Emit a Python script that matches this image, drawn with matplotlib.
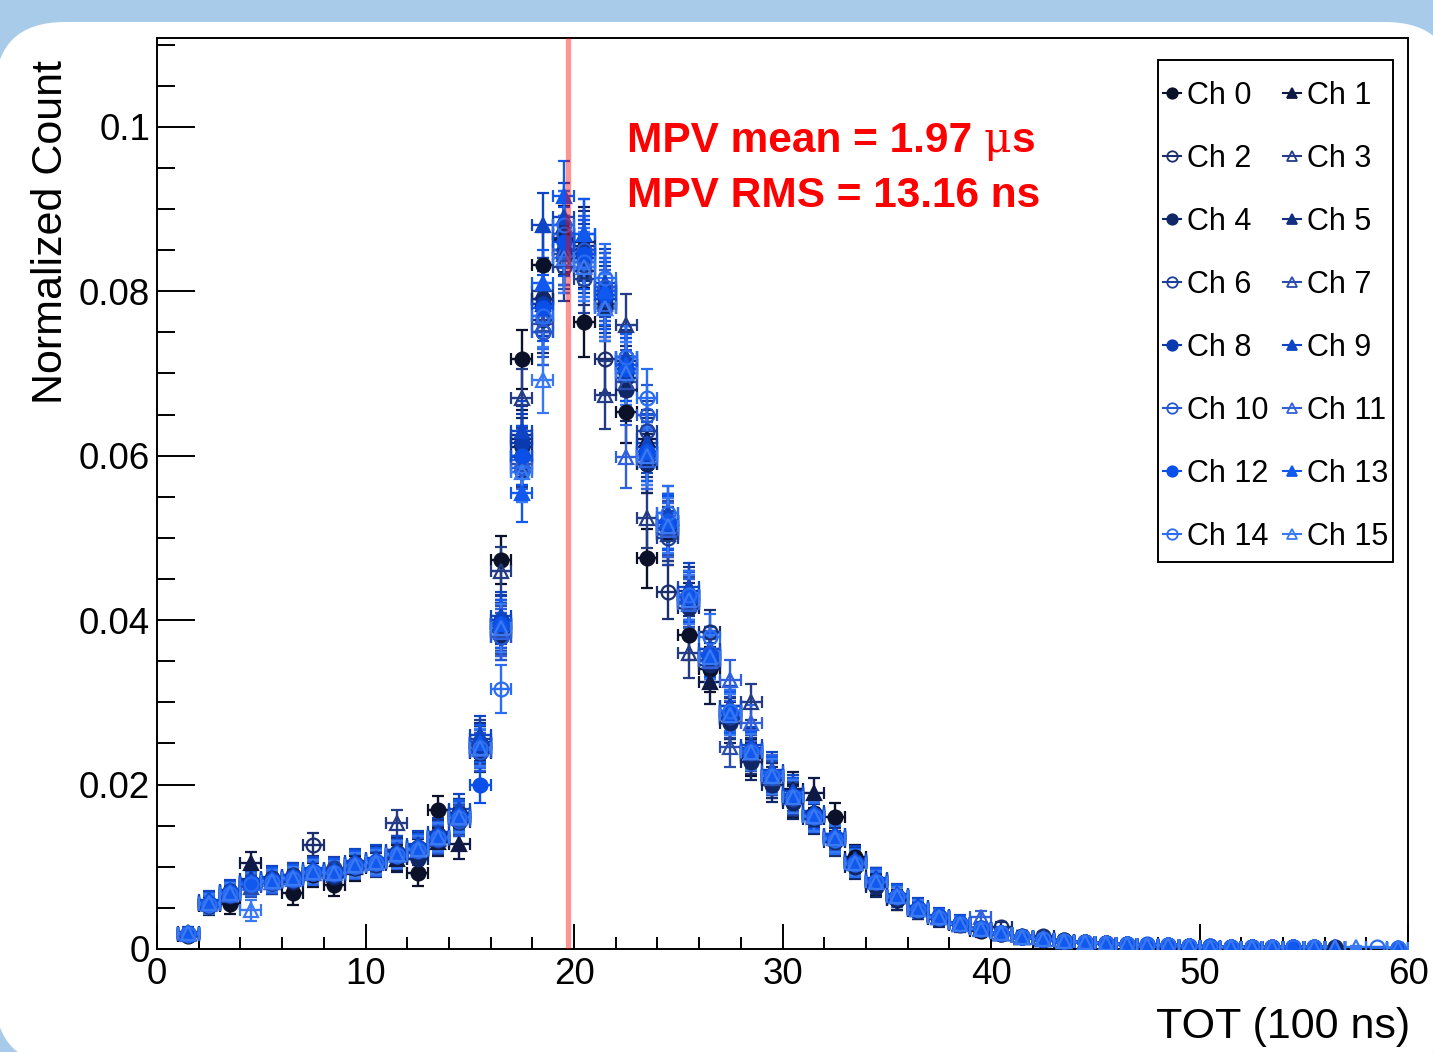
import numpy as np
import matplotlib
matplotlib.use('Agg')
import matplotlib.pyplot as plt
from matplotlib.patches import FancyBboxPatch, Rectangle
from matplotlib.transforms import IdentityTransform
from matplotlib.lines import Line2D
from matplotlib.offsetbox import TextArea, HPacker, AnchoredOffsetbox
from matplotlib.ticker import MultipleLocator, FuncFormatter

nan = np.nan

# TOT bins (100 ns units), centres 1.5 ... 59.5
tot_bins = np.arange(1.5, 60.0, 1.0)

# statistical error per bin (roughly common to all channels)
y_err = [0.0006, 0.0011, 0.0012, 0.0013, 0.0013, 0.0014, 0.0014, 0.0014, 0.0015, 0.0015,
         0.0016, 0.0016, 0.0017, 0.0018, 0.0023, 0.0029, 0.0036, 0.0040, 0.0042, 0.0042,
         0.0041, 0.0038, 0.0036, 0.0033, 0.0030, 0.0027, 0.0025, 0.0022, 0.0021, 0.0020,
         0.0018, 0.0017, 0.0015, 0.0013, 0.0012, 0.0010, 0.0009, 0.0008, 0.0007, 0.0006,
         0.0006, 0.0005, 0.0005, 0.0004, 0.0004, 0.0004, 0.0003, 0.0003, 0.0003, 0.0003,
         0.0003, 0.0002, 0.0002, 0.0002, 0.0002, 0.0002, 0.0002, 0.0001, 0.0001]

ch0 = [0.0016, 0.0052, 0.0055, 0.0082, 0.0080, 0.0068, 0.0090, 0.0078, 0.0098, 0.0104,
       0.0112, 0.0093, 0.0169, 0.0158, 0.0240, 0.0473, 0.0717, 0.0832, 0.0862, 0.0762,
       0.0785, 0.0653, 0.0475, 0.0505, 0.0382, 0.0340, 0.0280, 0.0232, 0.0205, 0.0180,
       0.0165, 0.0160, 0.0112, 0.0078, 0.0060, 0.0046, 0.0037, 0.0030, 0.0022, 0.0018,
       0.0014, 0.0012, 0.0011, 0.0008, 0.0007, 0.0005, 0.0005, 0.0004, 0.0004, 0.0003,
       nan, 0.0002, nan, 0.0003, nan, nan, nan, nan, nan]
ch1 = [0.0020, 0.0058, 0.0066, 0.0105, 0.0085, 0.0088, 0.0092, 0.0095, 0.0100, 0.0108,
       0.0110, 0.0118, 0.0130, 0.0128, 0.0250, 0.0395, 0.0620, 0.0790, 0.0850, 0.0860,
       0.0800, 0.0710, 0.0620, 0.0520, 0.0430, 0.0325, 0.0290, 0.0245, 0.0215, 0.0195,
       0.0190, 0.0140, 0.0108, 0.0085, 0.0066, 0.0050, 0.0040, 0.0032, 0.0025, 0.0020,
       0.0015, 0.0012, 0.0010, 0.0008, 0.0007, 0.0006, 0.0005, 0.0004, 0.0004, 0.0003,
       0.0003, nan, 0.0002, nan, 0.0002, 0.0002, nan, nan, nan]
ch2 = [0.0017, 0.0054, 0.0070, 0.0078, 0.0086, 0.0090, 0.0127, 0.0096, 0.0104, 0.0102,
       0.0118, 0.0120, 0.0140, 0.0165, 0.0250, 0.0385, 0.0600, 0.0765, 0.0840, 0.0825,
       0.0717, 0.0695, 0.0590, 0.0434, 0.0420, 0.0385, 0.0280, 0.0235, 0.0205, 0.0182,
       0.0160, 0.0130, 0.0104, 0.0080, 0.0063, 0.0048, 0.0038, 0.0030, 0.0024, 0.0027,
       0.0016, 0.0016, 0.0011, 0.0008, 0.0007, 0.0006, 0.0005, 0.0005, 0.0004, 0.0003,
       0.0003, 0.0003, nan, 0.0002, nan, nan, nan, nan, nan]
ch3 = [0.0019, 0.0056, 0.0069, 0.0082, 0.0081, 0.0087, 0.0095, 0.0090, 0.0105, 0.0110,
       0.0153, 0.0125, 0.0134, 0.0162, 0.0255, 0.0460, 0.0670, 0.0800, 0.0870, 0.0850,
       0.0674, 0.0759, 0.0524, 0.0505, 0.0360, 0.0365, 0.0295, 0.0300, 0.0212, 0.0188,
       0.0163, 0.0136, 0.0106, 0.0083, 0.0065, 0.0049, 0.0039, 0.0031, 0.0025, 0.0019,
       0.0015, 0.0012, 0.0010, 0.0008, 0.0007, 0.0006, 0.0005, 0.0005, 0.0004, nan,
       0.0003, nan, 0.0002, nan, nan, nan, nan, nan, nan]
ch4 = [0.0018, 0.0053, 0.0064, 0.0079, 0.0084, 0.0082, 0.0093, 0.0088, 0.0100, 0.0104,
       0.0114, 0.0110, 0.0138, 0.0155, 0.0238, 0.0380, 0.0610, 0.0790, 0.0865, 0.0845,
       0.0780, 0.0680, 0.0590, 0.0510, 0.0415, 0.0345, 0.0275, 0.0228, 0.0200, 0.0178,
       0.0158, 0.0132, 0.0100, 0.0076, 0.0060, 0.0046, 0.0036, 0.0029, 0.0023, 0.0018,
       0.0014, 0.0011, 0.0009, 0.0008, 0.0006, 0.0006, 0.0005, 0.0004, 0.0004, 0.0003,
       nan, 0.0003, 0.0002, nan, 0.0002, 0.0002, nan, nan, nan]
ch5 = [0.0021, 0.0057, 0.0070, 0.0085, 0.0086, 0.0089, 0.0097, 0.0095, 0.0105, 0.0110,
       0.0120, 0.0125, 0.0135, 0.0165, 0.0252, 0.0395, 0.0625, 0.0785, 0.0880, 0.0855,
       0.0805, 0.0715, 0.0610, 0.0520, 0.0435, 0.0360, 0.0290, 0.0245, 0.0212, 0.0188,
       0.0165, 0.0138, 0.0108, 0.0085, 0.0066, 0.0051, 0.0040, 0.0032, 0.0025, 0.0020,
       0.0016, 0.0013, 0.0010, 0.0008, 0.0007, 0.0006, 0.0005, 0.0005, 0.0004, 0.0003,
       0.0003, 0.0003, 0.0002, 0.0002, nan, 0.0002, nan, nan, nan]
ch6 = [0.0017, 0.0055, 0.0067, 0.0077, 0.0080, 0.0085, 0.0092, 0.0098, 0.0101, 0.0105,
       0.0113, 0.0124, 0.0132, 0.0158, 0.0248, 0.0392, 0.0598, 0.0750, 0.0830, 0.0815,
       0.0795, 0.0705, 0.0630, 0.0500, 0.0428, 0.0350, 0.0282, 0.0238, 0.0208, 0.0183,
       0.0160, 0.0134, 0.0104, 0.0082, 0.0064, 0.0049, 0.0039, 0.0031, 0.0024, 0.0019,
       0.0015, 0.0012, 0.0010, 0.0008, 0.0007, 0.0006, 0.0005, 0.0004, 0.0004, 0.0003,
       0.0003, 0.0002, nan, 0.0002, nan, nan, nan, nan, nan]
ch7 = [0.0019, 0.0056, 0.0066, 0.0076, 0.0082, 0.0087, 0.0095, 0.0092, 0.0103, 0.0107,
       0.0117, 0.0121, 0.0137, 0.0161, 0.0244, 0.0388, 0.0590, 0.0760, 0.0845, 0.0830,
       0.0780, 0.0690, 0.0605, 0.0512, 0.0422, 0.0352, 0.0246, 0.0238, 0.0208, 0.0185,
       0.0161, 0.0135, 0.0105, 0.0083, 0.0064, 0.0049, 0.0039, 0.0031, 0.0024, 0.0019,
       0.0015, 0.0012, 0.0010, 0.0008, 0.0007, 0.0006, 0.0005, 0.0005, 0.0004, 0.0003,
       0.0003, nan, 0.0002, nan, nan, nan, nan, nan, nan]
ch8 = [0.0018, 0.0054, 0.0068, 0.0080, 0.0083, 0.0086, 0.0094, 0.0090, 0.0102, 0.0106,
       0.0115, 0.0122, 0.0136, 0.0160, 0.0245, 0.0400, 0.0615, 0.0785, 0.0850, 0.0840,
       0.0790, 0.0700, 0.0600, 0.0515, 0.0425, 0.0355, 0.0285, 0.0240, 0.0210, 0.0185,
       0.0162, 0.0135, 0.0105, 0.0082, 0.0064, 0.0049, 0.0039, 0.0031, 0.0024, 0.0019,
       0.0015, 0.0012, 0.0010, 0.0008, 0.0007, 0.0006, 0.0005, 0.0005, 0.0004, 0.0004,
       0.0003, 0.0003, 0.0002, 0.0002, 0.0002, nan, nan, nan, nan]
ch9 = [0.0020, 0.0060, 0.0072, 0.0083, 0.0088, 0.0090, 0.0098, 0.0097, 0.0107, 0.0111,
       0.0121, 0.0128, 0.0142, 0.0170, 0.0260, 0.0405, 0.0630, 0.0880, 0.0890, 0.0870,
       0.0810, 0.0720, 0.0615, 0.0530, 0.0440, 0.0365, 0.0295, 0.0248, 0.0218, 0.0192,
       0.0168, 0.0140, 0.0110, 0.0086, 0.0067, 0.0052, 0.0041, 0.0033, 0.0026, 0.0020,
       0.0016, 0.0013, 0.0011, 0.0009, 0.0007, 0.0006, 0.0005, 0.0005, 0.0004, 0.0003,
       0.0003, 0.0003, 0.0003, 0.0002, 0.0002, 0.0002, nan, nan, nan]
ch10 = [0.0017, 0.0053, 0.0066, 0.0078, 0.0081, 0.0084, 0.0092, 0.0091, 0.0100, 0.0104,
        0.0113, 0.0119, 0.0134, 0.0156, 0.0240, 0.0380, 0.0585, 0.0750, 0.0870, 0.0850,
        0.0805, 0.0720, 0.0650, 0.0520, 0.0430, 0.0360, 0.0288, 0.0242, 0.0211, 0.0186,
        0.0163, 0.0136, 0.0106, 0.0083, 0.0065, 0.0050, 0.0040, 0.0032, 0.0025, 0.0019,
        0.0015, 0.0012, 0.0010, 0.0008, 0.0007, 0.0006, 0.0005, 0.0005, 0.0004, 0.0003,
        0.0003, 0.0003, 0.0002, 0.0002, nan, nan, nan, nan, nan]
ch11 = [0.0018, 0.0055, 0.0067, 0.0080, 0.0082, 0.0085, 0.0093, 0.0092, 0.0101, 0.0105,
        0.0114, 0.0121, 0.0135, 0.0159, 0.0243, 0.0385, 0.0595, 0.0770, 0.0850, 0.0835,
        0.0785, 0.0599, 0.0595, 0.0510, 0.0420, 0.0350, 0.0327, 0.0275, 0.0215, 0.0185,
        0.0162, 0.0135, 0.0105, 0.0082, 0.0064, 0.0049, 0.0039, 0.0031, 0.0039, 0.0019,
        0.0015, 0.0012, 0.0010, 0.0008, 0.0007, 0.0006, 0.0005, 0.0005, 0.0004, 0.0003,
        0.0003, 0.0003, 0.0002, nan, nan, nan, nan, nan, 0.0001]
ch12 = [0.0019, 0.0056, 0.0069, 0.0081, 0.0084, 0.0087, 0.0095, 0.0094, 0.0103, 0.0107,
        0.0116, 0.0123, 0.0137, 0.0162, 0.0200, 0.0395, 0.0600, 0.0780, 0.0860, 0.0845,
        0.0795, 0.0705, 0.0605, 0.0518, 0.0428, 0.0356, 0.0286, 0.0241, 0.0211, 0.0186,
        0.0163, 0.0136, 0.0106, 0.0083, 0.0065, 0.0050, 0.0040, 0.0032, 0.0025, 0.0019,
        0.0015, 0.0012, 0.0010, 0.0008, 0.0007, 0.0006, 0.0006, 0.0005, 0.0004, 0.0004,
        0.0003, 0.0003, 0.0002, 0.0002, 0.0002, nan, nan, nan, 0.0001]
ch13 = [0.0020, 0.0057, 0.0070, 0.0082, 0.0085, 0.0088, 0.0096, 0.0095, 0.0104, 0.0108,
        0.0117, 0.0124, 0.0138, 0.0163, 0.0250, 0.0395, 0.0555, 0.0810, 0.0916, 0.0870,
        0.0800, 0.0710, 0.0605, 0.0520, 0.0430, 0.0358, 0.0288, 0.0243, 0.0213, 0.0188,
        0.0164, 0.0137, 0.0107, 0.0084, 0.0066, 0.0050, 0.0040, 0.0032, 0.0025, 0.0020,
        0.0016, 0.0012, 0.0010, 0.0008, 0.0007, 0.0006, 0.0005, 0.0005, 0.0004, 0.0004,
        0.0003, 0.0003, 0.0003, 0.0002, 0.0002, 0.0002, nan, nan, 0.0001]
ch14 = [0.0018, 0.0054, 0.0067, 0.0079, 0.0082, 0.0085, 0.0093, 0.0092, 0.0101, 0.0105,
        0.0114, 0.0121, 0.0135, 0.0159, 0.0244, 0.0316, 0.0580, 0.0770, 0.0880, 0.0835,
        0.0816, 0.0720, 0.0670, 0.0530, 0.0430, 0.0380, 0.0290, 0.0240, 0.0210, 0.0185,
        0.0160, 0.0133, 0.0103, 0.0081, 0.0063, 0.0048, 0.0038, 0.0030, 0.0024, 0.0019,
        0.0015, 0.0012, 0.0010, 0.0008, 0.0007, 0.0006, 0.0005, 0.0005, 0.0004, 0.0003,
        0.0003, 0.0003, 0.0002, 0.0002, 0.0002, nan, nan, 0.0002, 0.0001]
ch15 = [0.0019, 0.0056, 0.0068, 0.0047, 0.0083, 0.0086, 0.0094, 0.0093, 0.0102, 0.0106,
        0.0115, 0.0122, 0.0136, 0.0160, 0.0245, 0.0390, 0.0580, 0.0692, 0.0840, 0.0830,
        0.0780, 0.0700, 0.0600, 0.0515, 0.0425, 0.0355, 0.0285, 0.0240, 0.0210, 0.0185,
        0.0162, 0.0135, 0.0105, 0.0082, 0.0064, 0.0049, 0.0039, 0.0031, 0.0024, 0.0019,
        0.0015, 0.0012, 0.0010, 0.0008, 0.0007, 0.0006, 0.0005, 0.0005, 0.0004, 0.0003,
        0.0003, 0.0003, 0.0002, nan, 0.0002, 0.0002, 0.0002, nan, 0.0001]

channels = [ch0, ch1, ch2, ch3, ch4, ch5, ch6, ch7,
            ch8, ch9, ch10, ch11, ch12, ch13, ch14, ch15]
labels = ['Ch %d' % i for i in range(16)]
colors = ['#0a1128', '#0e1a45', '#1b2f6e', '#233c85', '#0f2766', '#122f80', '#1d3f9a', '#2a4cab',
          '#0b3aae', '#0e45c4', '#2558d6', '#3060dc', '#0a4fe8', '#1058ee', '#2a6cf2', '#3a79f4']

mpv_tot = 19.7  # 1.97 us

plt.rcParams['font.family'] = ['Liberation Sans', 'DejaVu Sans']

fig = plt.figure(figsize=(14.33, 10.52), dpi=100)
fig.patch.set_facecolor('#a9cbea')
panel = FancyBboxPatch((-5, -13), 1460, 1043, boxstyle='round,pad=0,rounding_size=70',
                       transform=IdentityTransform(), fc='white', ec='none', zorder=-10)
fig.add_artist(panel)

ax = fig.add_axes([157 / 1433, 103 / 1052, 1251 / 1433, 911 / 1052])
ax.set_facecolor('white')

y_err = np.array(y_err)
handles = []
for c in range(16):
    y = np.array(channels[c], dtype=float)
    ok = ~np.isnan(y)
    mk = 'o' if c % 2 == 0 else '^'
    filled = c % 4 < 2
    col = colors[c]
    ax.errorbar(tot_bins[ok], y[ok], xerr=0.5, yerr=y_err[ok], fmt=mk, color=col,
                mfc=col if filled else 'none', mec=col, ms=10, mew=1.6,
                elinewidth=1.7, capsize=4, capthick=1.7, zorder=3)
    handles.append(Line2D([], [], color=col, marker=mk, mfc=col if filled else 'none',
                          mec=col, ms=7.5, mew=1.3, lw=1.5))

ax.axvline(mpv_tot, color='red', alpha=0.42, lw=3.8, zorder=5)

ax.set_xlim(0, 60)
ax.set_ylim(0, 0.1108)
ax.xaxis.set_major_locator(MultipleLocator(10))
ax.xaxis.set_minor_locator(MultipleLocator(2))
ax.yaxis.set_major_locator(MultipleLocator(0.02))
ax.yaxis.set_minor_locator(MultipleLocator(0.005))
ax.yaxis.set_major_formatter(FuncFormatter(lambda v, p: '%g' % round(v, 3)))
ax.tick_params(axis='both', which='both', direction='in', width=1.4, labelsize=26.5,
               top=False, right=False)
ax.tick_params(axis='x', which='major', length=18, pad=6)
ax.tick_params(axis='x', which='minor', length=9)
ax.tick_params(axis='y', which='major', length=27, pad=5)
ax.tick_params(axis='y', which='minor', length=13)
for s in ax.spines.values():
    s.set_linewidth(1.4)

ax.set_xlabel('TOT (100 ns)', fontsize=31)
ax.xaxis.set_label_coords(1.0016, -0.0856)
ax.xaxis.label.set_horizontalalignment('right')
ax.xaxis.label.set_verticalalignment('center')
ax.set_ylabel('Normalized Count', fontsize=31)
ax.yaxis.set_label_coords(-0.085, 0.976)
ax.yaxis.label.set_horizontalalignment('right')
ax.yaxis.label.set_verticalalignment('center')

# MPV annotation, mu in a thin serif face as in the original
bold = dict(color='red', fontsize=30.5, fontweight='bold')
line1 = HPacker(children=[TextArea('MPV mean = 1.97 ', textprops=bold),
                          TextArea('\u03bc', textprops=dict(color='red', fontsize=30.5,
                                                             family='DejaVu Serif')),
                          TextArea('s', textprops=bold)],
                align='baseline', pad=0, sep=0)
ax.add_artist(AnchoredOffsetbox(loc='center left', child=line1, pad=0, borderpad=0,
                                frameon=False, bbox_to_anchor=(0.3757, 0.888),
                                bbox_transform=ax.transAxes))
ax.text(0.3757, 0.827, 'MPV RMS = 13.16 ns', transform=ax.transAxes, ha='left',
        va='center', **bold)

# legend: entries without frame, box drawn separately (ROOT-style tight sides)
def ax_x(px):
    return (px - 157) / 1251


def ax_y(py):
    return (949 - py) / 911


order = list(range(0, 16, 2)) + list(range(1, 16, 2))
ax.add_patch(Rectangle((ax_x(1158), ax_y(562)), ax_x(1393) - ax_x(1158), ax_y(60) - ax_y(562),
                       transform=ax.transAxes, fc='white', ec='black', lw=1.4, zorder=5.5))
leg = ax.legend([handles[i] for i in order], [labels[i] for i in order], ncol=2,
                loc='upper left', bbox_to_anchor=(ax_x(1163), ax_y(81)), fontsize=22,
                frameon=False, handlelength=0.6, handletextpad=0.2, columnspacing=0.45,
                labelspacing=1.08, borderpad=0, borderaxespad=0)
leg.set_zorder(6)

fig.savefig('out.png', dpi=100, facecolor=fig.get_facecolor())
